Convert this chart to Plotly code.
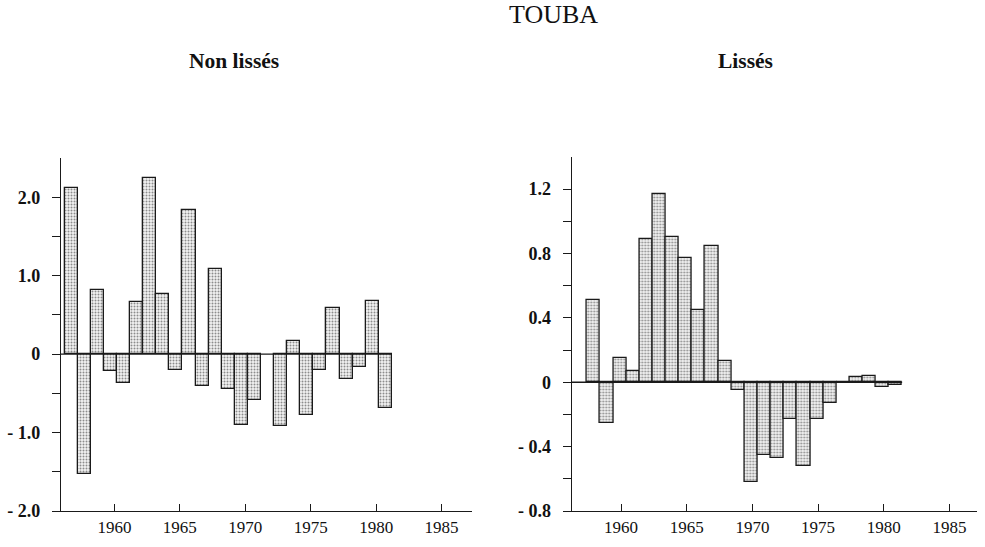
import plotly.graph_objects as go

# ---- data ----
raw_years = list(range(1957, 1982))
raw_values = [2.12, -1.53, 0.82, -0.21, -0.37, 0.67, 2.25, 0.76, -0.20, 1.84,
              -0.41, 1.09, -0.45, -0.90, -0.58, None, -0.91, 0.17, -0.77, -0.20,
              0.59, -0.32, -0.16, 0.68, -0.69]

smooth_years = list(range(1958, 1982))
smooth_values = [0.51, -0.25, 0.15, 0.07, 0.89, 1.17, 0.90, 0.77, 0.45, 0.85,
                 0.13, -0.05, -0.62, -0.45, -0.47, -0.23, -0.52, -0.23, -0.13,
                 0.00, 0.03, 0.04, -0.03, -0.02]

x_tick_years = [1960, 1965, 1970, 1975, 1980, 1985]
left_yticks = [-2, -1, 0, 1, 2]
left_yticktext = ["- 2.0", "- 1.0", "0", "1.0", "2.0"]
left_yminor = [-1.5, -0.5, 0.5, 1.5]
right_yticks = [-0.8, -0.4, 0, 0.4, 0.8, 1.2]
right_yticktext = ["- 0.8", "- 0.4", "0", "0.4", "0.8", "1.2"]
right_yminor = [-0.6, -0.2, 0.2, 0.6, 1.0]

title_main = "TOUBA"
title_left = "Non lissés"
title_right = "Lissés"

# ---- style ----
W, H = 985, 547
FONT = "Liberation Serif"
INK = "#1a1a1a"
BAR_W = 1.0
LEFT_OFF = -0.8
RIGHT_OFF = -0.6
LEFT_RANGE = [1955.92, 1987.3]
RIGHT_RANGE = [1956.24, 1987.1]


def px_x(p):
    return p / W


def px_y(p):
    return (H - p) / H


bar_marker = dict(
    color="white",
    line=dict(color=INK, width=1.3),
    pattern=dict(shape=".", fgcolor="#8c8c8c", bgcolor="#f4f4f4", size=3, solidity=0.35),
)

fig = go.Figure()
fig.add_trace(go.Bar(x=raw_years, y=raw_values, xaxis="x", yaxis="y",
                     width=BAR_W, offset=LEFT_OFF, marker=bar_marker,
                     showlegend=False))
fig.add_trace(go.Bar(x=smooth_years, y=smooth_values, xaxis="x2", yaxis="y2",
                     width=BAR_W, offset=RIGHT_OFF, marker=bar_marker,
                     showlegend=False))

xcommon = dict(
    tickvals=x_tick_years,
    ticktext=[str(v) for v in x_tick_years],
    ticks="inside", ticklen=7, tickwidth=1.2, tickcolor=INK,
    showline=True, linecolor=INK, linewidth=1.2,
    showgrid=False, zeroline=False, automargin=False,
    tickfont=dict(family=FONT, size=17, color="#111"),
    ticklabelstandoff=0,
    fixedrange=True,
)
ycommon = dict(
    ticks="outside", ticklen=8, tickwidth=1.2, tickcolor=INK,
    showline=True, linecolor=INK, linewidth=1.2,
    showgrid=False, zeroline=False, automargin=False,
    tickfont=dict(family=FONT, size=18, color="#111", weight="bold"),
    ticklabelstandoff=8,
    fixedrange=True,
)

fig.update_layout(
    template="none",
    width=W, height=H, autosize=False,
    margin=dict(l=0, r=0, t=0, b=0, pad=0),
    paper_bgcolor="white", plot_bgcolor="white",
    bargap=0,
    xaxis=dict(domain=[px_x(61), px_x(471.7)], range=LEFT_RANGE, anchor="y", **xcommon),
    yaxis=dict(domain=[px_y(511), px_y(158)], range=[-2.0, 2.5], anchor="x",
               tickvals=left_yticks, ticktext=left_yticktext,
               minor=dict(tickvals=left_yminor, ticks="outside", ticklen=8,
                          tickwidth=1.2, tickcolor=INK),
               **ycommon),
    xaxis2=dict(domain=[px_x(571.7), px_x(977)], range=RIGHT_RANGE, anchor="y2", **xcommon),
    yaxis2=dict(domain=[px_y(511), px_y(157)], range=[-0.8, 1.4], anchor="x2",
                tickvals=right_yticks, ticktext=right_yticktext,
                minor=dict(tickvals=right_yminor, ticks="outside", ticklen=8,
                           tickwidth=1.2, tickcolor=INK),
                **ycommon),
    shapes=[
        dict(type="line", xref="x", yref="y", x0=LEFT_RANGE[0],
             x1=raw_years[-1] + LEFT_OFF + BAR_W, y0=0, y1=0,
             line=dict(color=INK, width=1.3)),
        dict(type="line", xref="x2", yref="y2", x0=RIGHT_RANGE[0],
             x1=smooth_years[-1] + RIGHT_OFF + BAR_W, y0=0, y1=0,
             line=dict(color=INK, width=1.3)),
    ],
    annotations=[
        dict(text=title_main, x=px_x(553), y=px_y(15), xref="paper", yref="paper",
             showarrow=False, xanchor="center", yanchor="middle",
             font=dict(family=FONT, size=26, color="#111")),
        dict(text=title_left, x=px_x(233.5), y=px_y(60.5), xref="paper", yref="paper",
             showarrow=False, xanchor="center", yanchor="middle",
             font=dict(family=FONT, size=21.5, color="#111", weight="bold")),
        dict(text=title_right, x=px_x(745.5), y=px_y(60.5), xref="paper", yref="paper",
             showarrow=False, xanchor="center", yanchor="middle",
             font=dict(family=FONT, size=21.5, color="#111", weight="bold")),
    ],
)

fig.write_html("out.html", config={"displayModeBar": False},
               post_script="document.body.style.margin='0';")
